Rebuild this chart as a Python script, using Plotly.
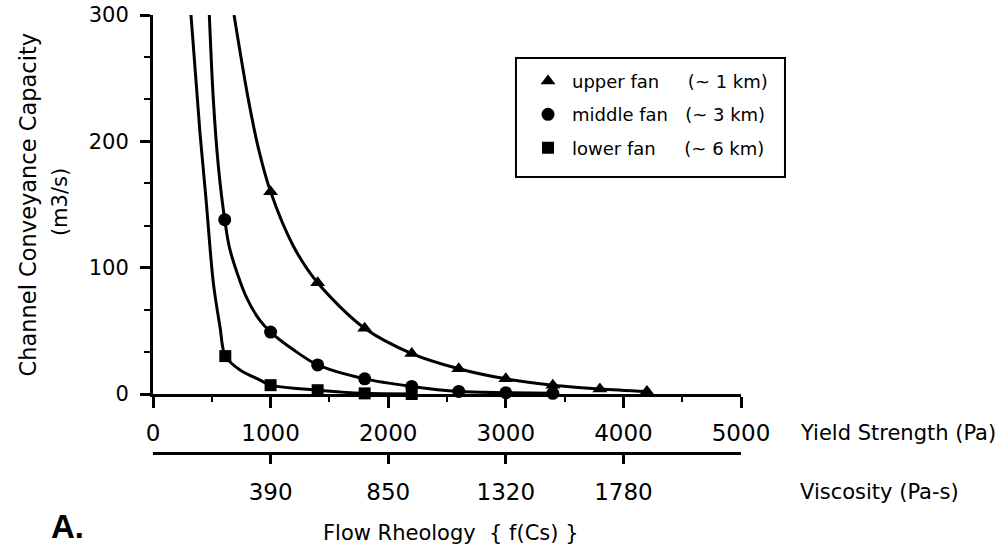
import plotly.graph_objects as go

# ---- data ----
upper_x = [1000, 1400, 1800, 2200, 2600, 3000, 3400, 3800, 4200]
upper_y = [160, 88, 52, 32, 20, 12, 7, 4, 2]
middle_x = [610, 1000, 1400, 1800, 2200, 2600, 3000, 3400]
middle_y = [138, 49, 23, 12, 6, 2, 1, 0.5]
lower_x = [615, 1000, 1400, 1800, 2200]
lower_y = [30, 7, 3, 0.5, 0]

# fitted curve traces
upper_curve_x = [689, 811, 900, 1000, 1194, 1400, 1800, 2200, 2600, 3000, 3400, 3800, 4200]
upper_curve_y = [300, 233, 193, 160, 117, 88, 52, 32, 20, 12, 7, 4, 2]
middle_curve_x = [479, 513, 556, 610, 655, 797, 911, 1000, 1194, 1400, 1800, 2200, 2600, 3000, 3400]
middle_curve_y = [300, 233, 180, 138, 114, 76, 58, 49, 35, 23, 12, 6, 2, 1, 0.5]
lower_curve_x = [323, 400, 451, 513, 570, 615, 740, 911, 1000, 1400, 1800, 2200]
lower_curve_y = [300, 206, 154, 88, 53, 30, 19, 11, 7, 3, 0.5, 0]

yield_ticks = [0, 1000, 2000, 3000, 4000, 5000]
visc_tick_pos = [1000, 2000, 3000, 4000]
visc_tick_text = ["390", "850", "1320", "1780"]
y_ticks = [0, 100, 200, 300]

series_names = [
    "upper fan\u00a0\u00a0\u00a0\u00a0\u00a0(~ 1 km)",
    "middle fan\u00a0\u00a0\u00a0(~ 3 km)",
    "lower fan\u00a0\u00a0\u00a0\u00a0\u00a0(~ 6 km)",
]

FONT = "DejaVu Sans, Arial, sans-serif"
BLK = "black"

fig = go.Figure()

for cx, cy in [(upper_curve_x, upper_curve_y), (middle_curve_x, middle_curve_y),
               (lower_curve_x, lower_curve_y)]:
    fig.add_trace(go.Scatter(x=cx, y=cy, mode="lines",
                             line=dict(color=BLK, width=3, shape="spline", smoothing=0.9),
                             showlegend=False, hoverinfo="skip"))

for (mx, my), sym, sz, nm in zip(
        [(upper_x, upper_y), (middle_x, middle_y), (lower_x, lower_y)],
        ["triangle-up", "circle", "square"], [13, 13, 12], series_names):
    fig.add_trace(go.Scatter(x=mx, y=my, mode="markers", name=nm, legendgroup=nm,
                             marker=dict(symbol=sym, size=sz, color=BLK),
                             cliponaxis=False))

# invisible trace so the secondary (viscosity) axis is drawn
fig.add_trace(go.Scatter(x=visc_tick_pos, y=[None] * len(visc_tick_pos), xaxis="x2",
                         mode="markers", marker=dict(opacity=0), showlegend=False,
                         hoverinfo="skip"))

fig.update_layout(
    width=997, height=553,
    margin=dict(l=153, r=256, t=15, b=100, autoexpand=False),
    paper_bgcolor="white", plot_bgcolor="white",
    font=dict(family=FONT, color=BLK, size=21),
    showlegend=True,
    legend=dict(x=0.631, y=0.891, xanchor="left", yanchor="top",
                borderwidth=0, bgcolor="rgba(0,0,0,0)",
                font=dict(family=FONT, size=18, color=BLK),
                tracegroupgap=7, itemwidth=38),
    xaxis=dict(range=[0, 5000], anchor="y", tickvals=yield_ticks, automargin=False,
               showline=True, linewidth=3, linecolor=BLK, showgrid=False, zeroline=False,
               ticks="outside", ticklen=11, tickwidth=3, tickcolor=BLK,
               tickfont=dict(size=23, family=FONT), ticklabelstandoff=5,
               minor=dict(dtick=500, tick0=0, ticks="outside", ticklen=5, tickwidth=2,
                          tickcolor=BLK, showgrid=False)),
    xaxis2=dict(range=[0, 5000], overlaying="x", anchor="free", position=0, side="bottom",
                tickvals=visc_tick_pos, ticktext=visc_tick_text, automargin=False,
                showline=True, linewidth=3, linecolor=BLK, showgrid=False, zeroline=False,
                ticks="outside", ticklen=9, tickwidth=3, tickcolor=BLK,
                tickfont=dict(size=23, family=FONT), ticklabelstandoff=8),
    yaxis=dict(range=[0, 300], domain=[0.1347, 1], tickvals=y_ticks, automargin=False,
               showline=True, linewidth=3, linecolor=BLK, showgrid=False, zeroline=False,
               ticks="outside", ticklen=10, tickwidth=3, tickcolor=BLK,
               tickfont=dict(size=21, family=FONT), ticklabelstandoff=7,
               minor=dict(dtick=100 / 3, tick0=0, ticks="outside", ticklen=6, tickwidth=2,
                          tickcolor=BLK, showgrid=False)),
)

# legend frame
fig.add_shape(type="rect", xref="paper", yref="paper", x0=0.6173, x1=1.0748,
              y0=0.630, y1=0.902, line=dict(color=BLK, width=2), layer="above")

ann = [
    dict(text="Yield Strength (Pa)", x=1.097, y=0.0457, xanchor="left", yanchor="middle",
         font=dict(size=21)),
    dict(text="Viscosity (Pa-s)", x=1.097, y=-0.089, xanchor="left", yanchor="middle",
         font=dict(size=21)),
    dict(text="Flow Rheology\u00a0\u00a0{ f(Cs) }", x=0.507, y=-0.183, xanchor="center",
         yanchor="middle", font=dict(size=21)),
    dict(text="<b>A.</b>", x=-0.177, y=-0.167, xanchor="left", yanchor="middle",
         font=dict(size=33, family="Liberation Sans, Arial, sans-serif")),
    dict(text="Channel Conveyance Capacity", x=-0.212, y=0.566, textangle=-90,
         xanchor="center", yanchor="middle", font=dict(size=22.5)),
    dict(text="(m3/s)", x=-0.158, y=0.573, textangle=-90,
         xanchor="center", yanchor="middle", font=dict(size=21)),
]
for a in ann:
    a.update(xref="paper", yref="paper", showarrow=False)
    fig.add_annotation(**a)

fig.write_html("out.html")
